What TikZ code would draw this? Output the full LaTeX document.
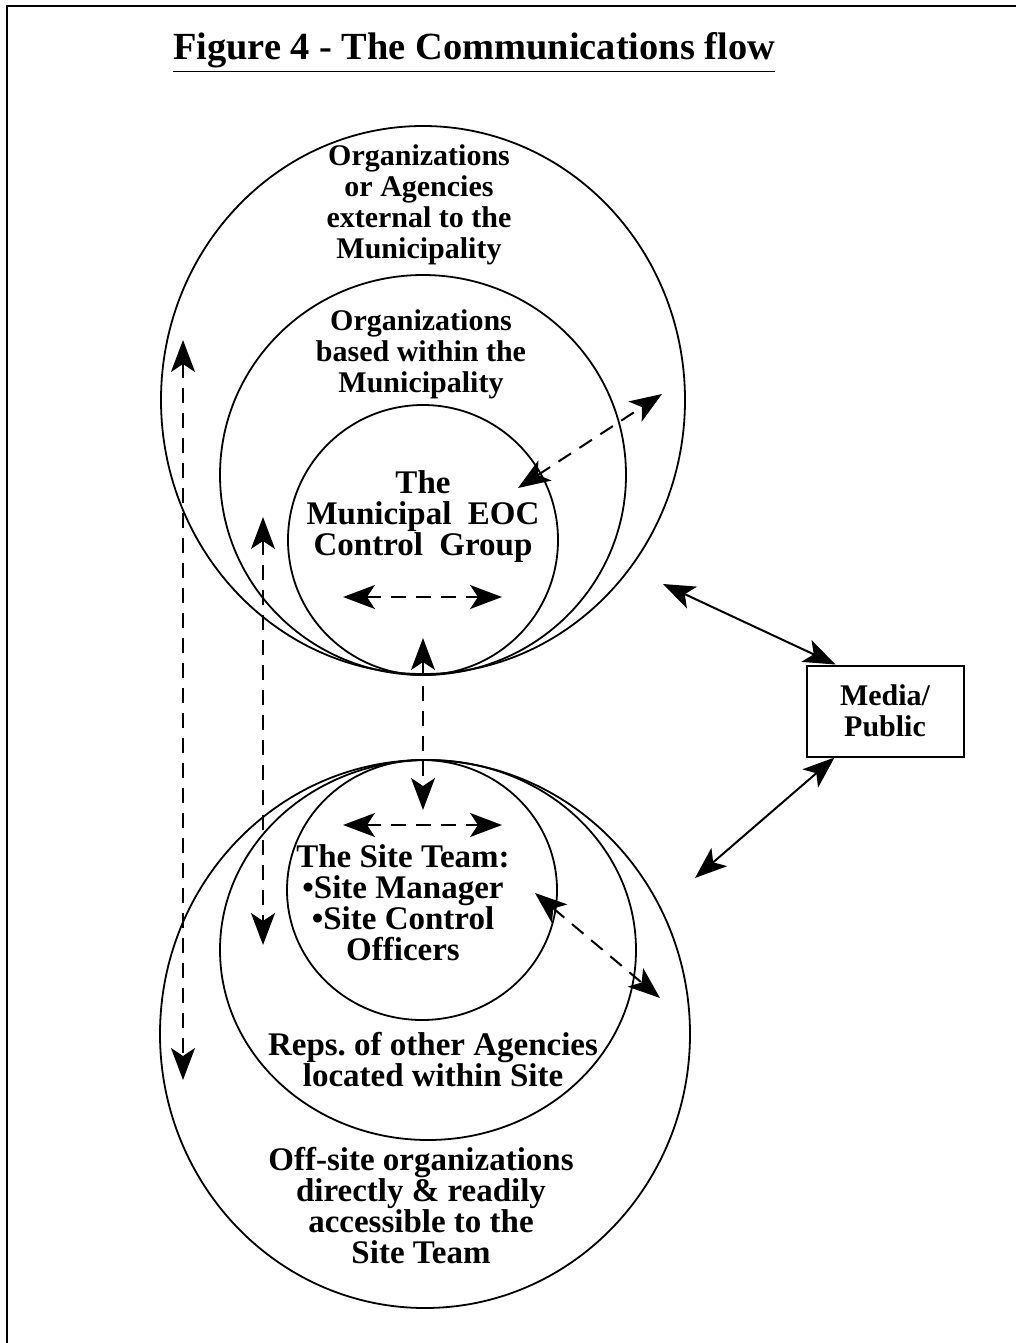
\documentclass[tikz,border=0pt]{standalone}
\usepackage{fontspec}
\setmainfont{Liberation Serif}
\usetikzlibrary{arrows.meta}
\frenchspacing

\begin{document}
\begin{tikzpicture}[x=0.5pt,y=-0.5pt,
    >={Stealth[length=16pt,width=12pt,inset=4pt]},
    font=\bfseries\fontsize{15}{15.5}\selectfont]
    \tikzset{
        ring/.style={line width=0.9pt},
        flow/.style={<->,line width=1pt,dash pattern=on 7.5pt off 5pt},
        link/.style={<->,line width=1pt},
        words/.style={align=center,inner sep=0pt},
        bigwords/.style={words,font=\bfseries\fontsize{16.5}{15.5}\selectfont}
    }

    \useasboundingbox (0,0) rectangle (1016,1343);
    \draw[line width=1.2pt] (7,1360) -- (7,6) -- (1040,6);

    \node[anchor=base,font=\bfseries\fontsize{19.2}{22}\selectfont] (title)
        at (474,60) {\underline{Figure 4 - The Communications flow}};

    % rings: centre x / centre y / x radius / y radius (upper three meet at the bottom,
    % lower three meet at the top)
    \foreach \cx/\cy/\rx/\ry in {
        423/400/262/274, 423/475/203/200, 423/540/135/135,
        425/1034/265/274, 428/950/208/190, 422/890/135/130}{
        \draw[ring] (\cx,\cy) ellipse [x radius=\rx,y radius=\ry];
    }

    \node[words] (external) at (419,205)
        {Organizations\\ or Agencies\\external to the\\Municipality};
    \node[words] (within) at (421,354)
        {Organizations\\based within the\\Municipality};
    \node[bigwords] (eoc) at (423,517)
        {The\\Municipal\ \ EOC\\Control\ \ Group};
    \node[bigwords] (siteteam) at (403,903)
        {The Site Team:\\•Site Manager\\•Site Control\\Officers};
    \node[bigwords] (reps) at (433,1060)
        {Reps. of other Agencies\\located within Site};
    \node[bigwords] (offsite) at (421,1206)
        {Off-site organizations\\directly \& readily\\accessible to the\\Site Team};
    \node[draw,line width=1pt,minimum width=78.5pt,minimum height=45.5pt,words]
        (media) at (885,711) {Media/\\Public};

    % free arrow ends
    \coordinate (extTop) at (183,340);
    \coordinate (extBot) at (183,1080);
    \coordinate (munTop) at (263,517);
    \coordinate (munBot) at (263,945);
    \coordinate (eocL) at (343,597);
    \coordinate (eocR) at (502,597);
    \coordinate (eocDown) at (423,638);
    \coordinate (siteUp) at (423,810);
    \coordinate (siteL) at (343,825);
    \coordinate (siteR) at (502,825);
    \coordinate (eocOut) at (518,488);
    \coordinate (munOut) at (662,394);
    \coordinate (siteOut) at (535,893);
    \coordinate (repsOut) at (660,998);
    \coordinate (upperSide) at (663,584);
    \coordinate (lowerSide) at (695,878);

    \draw[flow] (extTop) -- (extBot);
    \draw[flow] (munTop) -- (munBot);
    \draw[flow] (eocL) -- (eocR);
    \draw[flow] (eocDown) -- (siteUp);
    \draw[flow] (siteL) -- (siteR);
    \draw[flow] (eocOut) -- (munOut);
    \draw[flow] (siteOut) -- (repsOut);
    \draw[link] (upperSide) -- ([xshift=15pt]media.north west);
    \draw[link] ([xshift=14.5pt]media.south west) -- (lowerSide);
\end{tikzpicture}
\end{document}
